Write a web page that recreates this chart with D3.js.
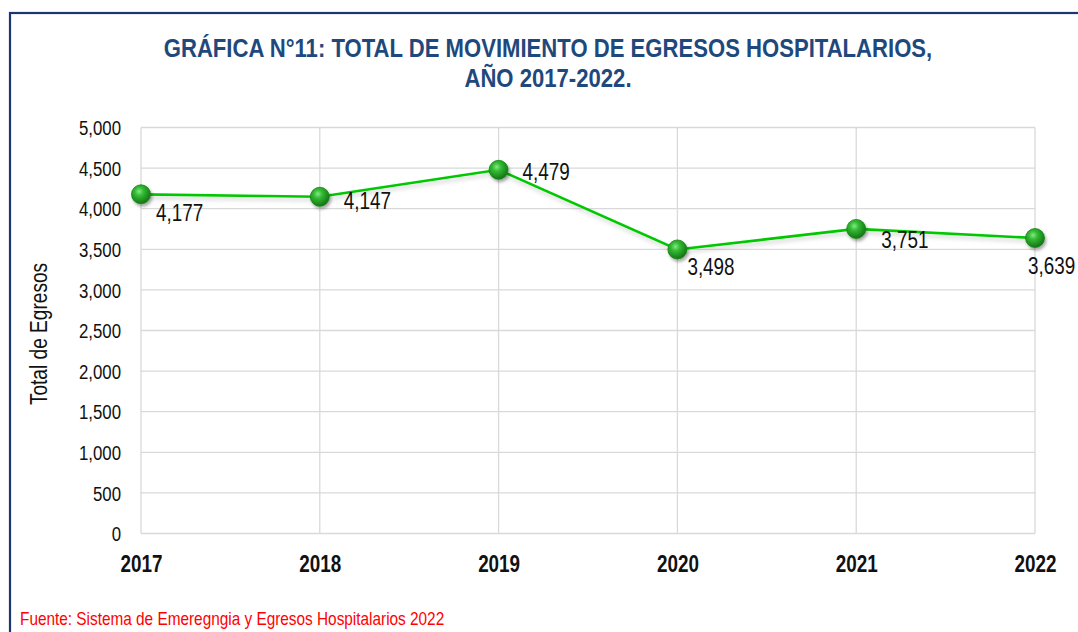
<!DOCTYPE html>
<html>
<head>
<meta charset="utf-8">
<script src="https://cdn.jsdelivr.net/npm/d3@7"></script>
<style>
  html, body { margin: 0; padding: 0; background: #fff; }
  svg { display: block; }
  text { font-family: "Liberation Sans Narrow", "Arial Narrow", "Liberation Sans", Arial, sans-serif; }
</style>
</head>
<body>
<svg id="chart" width="1078" height="632"></svg>
<script>
// data
const years = ["2017", "2018", "2019", "2020", "2021", "2022"];
const egresos = [4177, 4147, 4479, 3498, 3751, 3639];
const yTicks = [0, 500, 1000, 1500, 2000, 2500, 3000, 3500, 4000, 4500, 5000];
const titleLines = ["GRÁFICA N°11: TOTAL DE MOVIMIENTO DE EGRESOS HOSPITALARIOS,", "AÑO 2017-2022."];
const yTitle = "Total de Egresos";
const source = "Fuente: Sistema de Emeregngia y Egresos Hospitalarios 2022";

// label placement (Excel style, varies per point)
const labelOffsets = [[15, 27], [24, 12], [24, 10], [10, 26], [25, 19], [-7, 36]];

const svg = d3.select("#chart");
const margin = { left: 141, right: 1035, top: 127.5, bottom: 533.5 };

const x = d3.scalePoint().domain(years).range([margin.left, margin.right]).padding(0);
const y = d3.scaleLinear().domain([0, 5000]).range([margin.bottom, margin.top]);
const fmt = d3.format(",");

// no narrow font installed: squeeze the regular one horizontally
function condense(sel, k) {
	sel.each(function() {
		const w = this.getComputedTextLength();
		d3.select(this)
			.attr("textLength", w * k)
			.attr("lengthAdjust", "spacingAndGlyphs");
	});
}

// outer frame
svg.append("rect")
	.attr("x", 10).attr("y", 13)
	.attr("width", 1120).attr("height", 700)
	.attr("fill", "none")
	.attr("stroke", "#1b3670")
	.attr("stroke-width", 2.2);

// defs: marker gradient + shadow
const defs = svg.append("defs");
const grad = defs.append("radialGradient")
	.attr("id", "ball").attr("cx", "40%").attr("cy", "35%").attr("r", "65%");
grad.append("stop").attr("offset", "0%").attr("stop-color", "#85e885");
grad.append("stop").attr("offset", "35%").attr("stop-color", "#33bb33");
grad.append("stop").attr("offset", "100%").attr("stop-color", "#167316");

const shadow = defs.append("filter").attr("id", "shadow")
	.attr("x", "-50%").attr("y", "-50%").attr("width", "200%").attr("height", "200%");
shadow.append("feDropShadow")
	.attr("dx", 1.5).attr("dy", 2.5).attr("stdDeviation", 1.8)
	.attr("flood-color", "#000").attr("flood-opacity", 0.35);

const lineShadow = defs.append("filter").attr("id", "lshadow")
	.attr("x", "-5%").attr("y", "-50%").attr("width", "110%").attr("height", "200%");
lineShadow.append("feDropShadow")
	.attr("dx", 1).attr("dy", 3).attr("stdDeviation", 2)
	.attr("flood-color", "#000").attr("flood-opacity", 0.18);

// gridlines
const grid = svg.append("g").attr("stroke", "#d9d9d9").attr("stroke-width", 1.3);
grid.selectAll("line.h")
	.data(yTicks)
	.enter()
	.append("line")
	.attr("x1", margin.left).attr("x2", margin.right)
	.attr("y1", d => y(d)).attr("y2", d => y(d));
grid.selectAll("line.v")
	.data(years)
	.enter()
	.append("line")
	.attr("x1", d => x(d)).attr("x2", d => x(d))
	.attr("y1", margin.top).attr("y2", margin.bottom);

// y axis labels
const yAxis = svg.append("g")
	.attr("transform", `translate(${margin.left - 20},0)`)
	.call(d3.axisLeft(y).tickValues(yTicks).tickFormat(fmt).tickSize(0).tickPadding(0));
yAxis.select(".domain").remove();
yAxis.attr("font-family", null);
yAxis.selectAll("text")
	.attr("font-size", 20)
	.attr("fill", "#111")
	.attr("dy", "0.36em")
	.call(condense, 0.84);

// x axis labels
const xAxis = svg.append("g")
	.attr("transform", `translate(0,${margin.bottom})`)
	.call(d3.axisBottom(x).tickSize(0).tickPadding(0));
xAxis.select(".domain").remove();
xAxis.attr("font-family", null);
xAxis.selectAll("text")
	.attr("font-size", 23)
	.attr("font-weight", "bold")
	.attr("fill", "#111")
	.attr("dy", 0)
	.attr("y", 38)
	.call(condense, 0.82);

// line
const line = d3.line()
	.x((d, i) => x(years[i]))
	.y(d => y(d));

svg.append("path")
	.datum(egresos)
	.attr("d", line)
	.attr("fill", "none")
	.attr("stroke", "#00c800")
	.attr("stroke-width", 2.6)
	.attr("filter", "url(#lshadow)");

// markers
svg.append("g")
	.selectAll("circle")
	.data(egresos)
	.enter()
	.append("circle")
	.attr("cx", (d, i) => x(years[i]))
	.attr("cy", d => y(d))
	.attr("r", 9.5)
	.attr("fill", "url(#ball)")
	.attr("stroke", "#118811")
	.attr("stroke-width", 0.8)
	.attr("filter", "url(#shadow)");

// data labels
svg.append("g")
	.selectAll("text")
	.data(egresos)
	.enter()
	.append("text")
	.attr("x", (d, i) => x(years[i]) + labelOffsets[i][0])
	.attr("y", (d, i) => y(d) + labelOffsets[i][1])
	.attr("font-size", 23)
	.attr("fill", "#111")
	.text(d => fmt(d))
	.call(condense, 0.82);

// title
svg.append("g")
	.selectAll("text")
	.data(titleLines)
	.enter()
	.append("text")
	.attr("x", 548)
	.attr("y", (d, i) => 57 + i * 30)
	.attr("text-anchor", "middle")
	.attr("font-size", 26)
	.attr("font-weight", "bold")
	.attr("fill", "#1f497d")
	.text(d => d)
	.call(condense, 0.85);

// y axis title
svg.append("text")
	.attr("transform", "translate(47,334) rotate(-90)")
	.attr("text-anchor", "middle")
	.attr("font-size", 23)
	.attr("fill", "#111")
	.text(yTitle)
	.call(condense, 0.83);

// source note
svg.append("text")
	.attr("x", 20)
	.attr("y", 625)
	.attr("font-size", 18.5)
	.attr("fill", "#ff0000")
	.text(source)
	.call(condense, 0.83);
</script>
</body>
</html>
